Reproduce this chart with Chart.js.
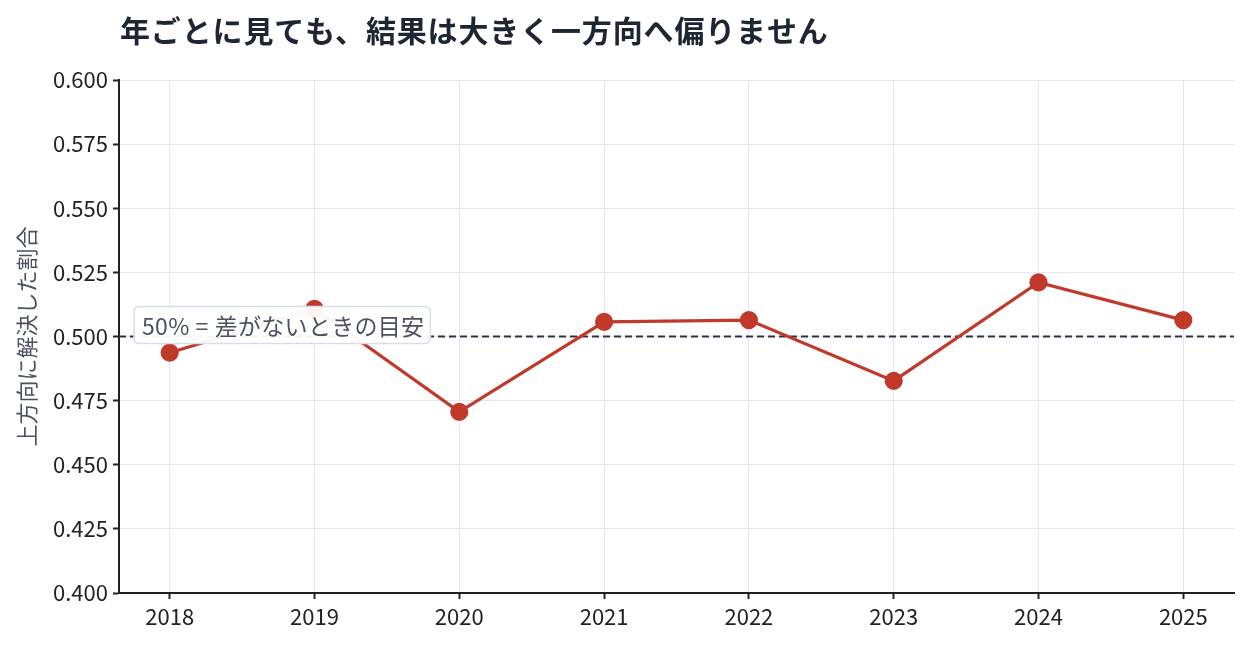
<!DOCTYPE html>
<html>
<head>
<meta charset="utf-8">
<script src="https://cdn.jsdelivr.net/npm/chart.js@4.4.0/dist/chart.umd.min.js"></script>
<style>
html,body{margin:0;padding:0;background:#fff;}
#wrap{width:1249px;height:645px;position:relative;}
</style>
</head>
<body>
<div id="wrap"><canvas id="c" width="1249" height="645"></canvas></div>
<script>
const chartTitle = "年ごとに見ても、結果は大きく一方向へ偏りません";
const yAxisTitle = "上方向に解決した割合";
const years = [2018, 2019, 2020, 2021, 2022, 2023, 2024, 2025];
const upShare = [0.4937, 0.5108, 0.4706, 0.5057, 0.5064, 0.4827, 0.5211, 0.5064];
const yTicks = [0.400, 0.425, 0.450, 0.475, 0.500, 0.525, 0.550, 0.575, 0.600];
const refValue = 0.5;
const refLabel = "50% = 差がないときの目安";

const FONT = '"Noto Sans CJK JP", "Noto Sans", sans-serif';

const refLinePlugin = {
  id: 'refLine',
  beforeDatasetsDraw(chart) {
    const {ctx, chartArea, scales} = chart;
    const y = scales.y.getPixelForValue(refValue);
    ctx.save();
    ctx.strokeStyle = '#2b3242';
    ctx.lineWidth = 2.2;
    ctx.setLineDash([7, 4]);
    ctx.beginPath();
    ctx.moveTo(chartArea.left, y);
    ctx.lineTo(chartArea.right, y);
    ctx.stroke();
    ctx.restore();
  },
  afterDatasetsDraw(chart) {
    const {ctx, chartArea, scales} = chart;
    const y = scales.y.getPixelForValue(refValue);
    ctx.save();
    ctx.font = '23px ' + FONT;
    try { ctx.letterSpacing = '0.3px'; } catch (e) {}
    const parts = refLabel.split(' ');
    const spaceW = 6;
    let tw = 0;
    parts.forEach((p, i) => { tw += ctx.measureText(p).width + (i > 0 ? spaceW : 0); });
    const bx = chartArea.left + 15, bh = 37, bw = tw + 14;
    const by = y - 30;
    ctx.beginPath();
    ctx.roundRect(bx, by, bw, bh, 5);
    ctx.fillStyle = 'rgba(255,255,255,0.95)';
    ctx.fill();
    ctx.strokeStyle = '#d6ddeb';
    ctx.lineWidth = 1.5;
    ctx.stroke();
    ctx.fillStyle = '#4a5161';
    ctx.textBaseline = 'middle';
    let x = bx + 8;
    parts.forEach((p, i) => {
      if (i > 0) x += spaceW;
      ctx.fillText(p, x, by + bh / 2 + 1);
      x += ctx.measureText(p).width;
    });
    ctx.restore();
  },
  afterDraw(chart) {
    const {ctx} = chart;
    ctx.save();
    ctx.font = 'bold 30px ' + FONT;
    try { ctx.letterSpacing = '0.85px'; } catch (e) {}
    ctx.fillStyle = '#1f2633';
    ctx.textBaseline = 'middle';
    ctx.fillText(chartTitle, 120, 31);
    ctx.restore();
  }
};

new Chart(document.getElementById('c'), {
  type: 'line',
  data: {
    datasets: [{
      data: years.map((yr, i) => ({x: yr, y: upShare[i]})),
      borderColor: '#c0392b',
      backgroundColor: '#c0392b',
      borderWidth: 3.2,
      pointRadius: 7.5,
      pointHoverRadius: 7.5,
      tension: 0
    }]
  },
  options: {
    responsive: false,
    animation: false,
    layout: {padding: {left: 0, right: 15, top: 80, bottom: 0}},
    plugins: {legend: {display: false}, tooltip: {enabled: false}, title: {display: false}},
    scales: {
      x: {
        type: 'linear',
        min: 2017.65,
        max: 2025.35,
        afterBuildTicks: (s) => { s.ticks = years.map(v => ({value: v})); },
        afterFit: (s) => { s.height = 52; },
        ticks: {
          callback: (v) => String(v),
          color: '#222',
          font: {family: FONT, size: 22},
          padding: 4,
          maxRotation: 0
        },
        grid: {color: '#e6e7ea', lineWidth: 1, tickLength: 6, tickColor: '#222', tickWidth: 2},
        border: {display: true, color: '#222', width: 2}
      },
      y: {
        min: 0.4,
        max: 0.6,
        afterBuildTicks: (s) => { s.ticks = yTicks.map(v => ({value: v})); },
        afterFit: (s) => { s.width = 119; },
        ticks: {
          callback: (v) => Number(v).toFixed(3),
          color: '#222',
          font: {family: FONT, size: 22},
          padding: 5
        },
        grid: {color: '#e6e7ea', lineWidth: 1, tickLength: 6, tickColor: '#222', tickWidth: 2},
        border: {display: true, color: '#222', width: 2},
        title: {
          display: true,
          text: yAxisTitle,
          color: '#4a5161',
          font: {family: FONT, size: 22},
          padding: {top: 13, bottom: 0}
        }
      }
    }
  },
  plugins: [refLinePlugin]
});
</script>
</body>
</html>
